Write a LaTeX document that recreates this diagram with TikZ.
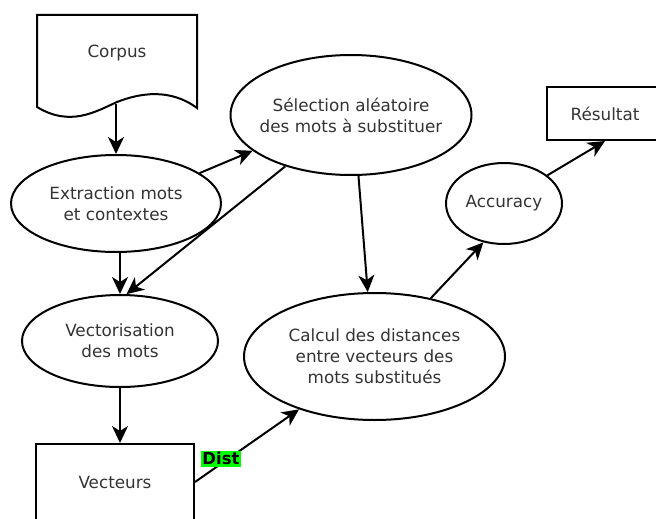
\documentclass[tikz,border=0pt]{standalone}
\usepackage{fontspec}
\setmainfont{DejaVu Sans}
\usetikzlibrary{shapes.geometric,arrows.meta}
\definecolor{distgreen}{HTML}{00FF00}
\begin{document}
\begin{tikzpicture}[x=1pt,y=-1pt,
  every node/.style={font=\fontsize{16.8}{21}\selectfont, text=black!80},
  proc/.style={ellipse, draw=black, line width=2pt, inner sep=0pt, align=center},
  box/.style={rectangle, draw=black, line width=2pt, inner sep=0pt, align=center},
  flow/.style={-{Stealth[length=17pt,width=16pt,inset=5pt]}, line width=2pt},
  tag/.style={fill=distgreen, text=black, font=\fontsize{16.5}{18}\selectfont\bfseries, inner sep=1.5pt}]
\useasboundingbox (0,0) rectangle (656,519);
\clip (0,0) rectangle (656,519);

% document shape with a wavy bottom edge
\draw[line width=2pt, line join=miter]
  (37,107) -- (37,15) -- (197,15) -- (197,108)
  .. controls (170,88) and (140,93) .. (117,102)
  .. controls (95,112) and (70,127) .. cycle;
\node (corpus) at (117,53) {Corpus};
\coordinate (corpusfoot) at (116,104);

% processing steps
\node[proc, minimum width=210pt, minimum height=97pt] (ext) at (116,203.5) {Extraction mots\\et contextes};
\node[proc, minimum width=241pt, minimum height=120pt, inner xsep=-10pt] (sel) at (351,115) {Sélection aléatoire\\des mots à substituer};
\node[proc, minimum width=196pt, minimum height=92pt] (vec) at (120,341) {Vectorisation\\des mots};
\node[box, minimum width=158pt, minimum height=76pt] (vect) at (115,482) {Vecteurs};
\node[proc, minimum width=261pt, minimum height=127pt] (calc) at (374.5,356.5) {Calcul des distances\\entre vecteurs des\\mots substitués};
\node[proc, minimum width=116pt, minimum height=81pt] (acc) at (504,203.5) {Accuracy};
\node[box, minimum width=116pt, minimum height=53pt] (res) at (605,113.5) {Résultat};

% flow
\draw[flow] (corpusfoot) -- (ext.north);
\draw[flow] (ext.20) -- (sel.200);
\draw[flow] (sel.218) -- (vec.82);
\draw[flow] (vec.north |- ext.south) -- (vec.north);
\draw[flow] (vec.south) -- (vec.south |- vect.north);
\draw[flow] (vect.east) -- node[tag, pos=0.25, yshift=5pt] (dist) {Dist} (calc.215);
\draw[flow] (sel.277) -- (calc.96);
\draw[flow] (calc.46) -- (acc.242);
\draw[flow] (acc.33) -- (res.south);
\end{tikzpicture}
\end{document}
